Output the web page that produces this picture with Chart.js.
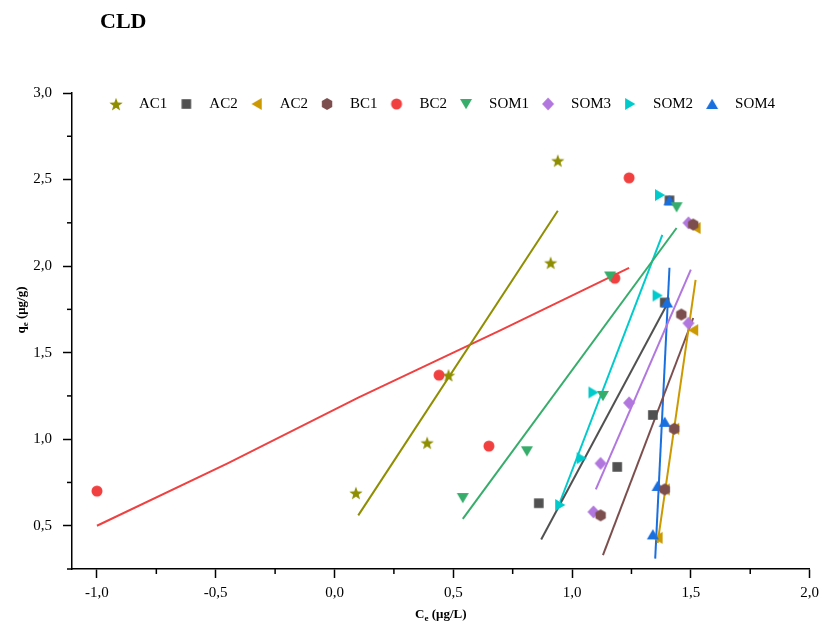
<!DOCTYPE html>
<html>
<head>
<meta charset="utf-8">
<script src="https://cdn.jsdelivr.net/npm/chart.js@4.4.0/dist/chart.umd.min.js"></script>
<style>
  html, body { margin: 0; padding: 0; background: #fff; }
</style>
</head>
<body>
<canvas id="cldChart" width="825" height="624"></canvas>
<script>
// legend labels, in the order of the legend row
var seriesLabels = ['AC1', 'AC2', 'AC2', 'BC1', 'BC2', 'SOM1', 'SOM3', 'SOM2', 'SOM4'];

// measured points: x = Ce, y = qe
var ac1X = [0.09, 0.39, 0.48, 0.91, 0.94];
var ac1Y = [0.69, 0.98, 1.37, 2.02, 2.61];
var ac2X = [0.86, 1.19, 1.34, 1.39, 1.41];
var ac2Y = [0.63, 0.84, 1.14, 1.79, 2.38];
var ac2bX = [1.36, 1.39, 1.43, 1.51, 1.52];
var ac2bY = [0.43, 0.71, 1.06, 1.63, 2.22];
var bc1X = [1.12, 1.39, 1.43, 1.46, 1.51];
var bc1Y = [0.56, 0.71, 1.06, 1.72, 2.24];
var bc2X = [-1.00, 0.44, 0.65, 1.18, 1.24];
var bc2Y = [0.70, 1.37, 0.96, 1.93, 2.51];
var som1X = [0.54, 0.81, 1.13, 1.16, 1.44];
var som1Y = [0.66, 0.93, 1.25, 1.94, 2.34];
var som3X = [1.09, 1.12, 1.24, 1.49, 1.49];
var som3Y = [0.58, 0.86, 1.21, 1.67, 2.25];
var som2X = [0.95, 1.04, 1.09, 1.36, 1.37];
var som2Y = [0.62, 0.89, 1.27, 1.83, 2.41];
var som4X = [1.34, 1.36, 1.39, 1.40, 1.41];
var som4Y = [0.45, 0.73, 1.10, 1.79, 2.38];

// fitted lines
var ac1FitX = [0.10, 0.94];   var ac1FitY = [0.56, 2.32];
var ac2FitX = [0.87, 1.40];   var ac2FitY = [0.42, 1.78];
var ac2bFitX = [1.36, 1.52];  var ac2bFitY = [0.40, 1.92];
var bc1FitX = [1.13, 1.51];   var bc1FitY = [0.33, 1.70];
var bc2FitX = [-1.00, -0.45, 0.10, 0.70, 1.24];
var bc2FitY = [0.50, 0.86, 1.24, 1.63, 1.99];
var som1FitX = [0.54, 1.44];  var som1FitY = [0.54, 2.22];
var som3FitX = [1.10, 1.50];  var som3FitY = [0.71, 1.98];
var som2FitX = [0.95, 1.38];  var som2FitY = [0.64, 2.18];
var som4FitX = [1.35, 1.41];  var som4FitY = [0.31, 1.99];

var colors = ['#8E8E00', '#515151', '#CC9900', '#7D4E4E', '#F14040', '#37AD6B', '#B177DE', '#00CBCC', '#1A6FDF'];
var shapes = ['star', 'square', 'triLeft', 'hexagon', 'circle', 'triDown', 'diamond', 'triRight', 'triUp'];
// lower number = drawn on top
var drawOrder = [9, 4, 6, 1, 8, 2, 7, 5, 3];

var pointsX = [ac1X, ac2X, ac2bX, bc1X, bc2X, som1X, som3X, som2X, som4X];
var pointsY = [ac1Y, ac2Y, ac2bY, bc1Y, bc2Y, som1Y, som3Y, som2Y, som4Y];
var fitsX = [ac1FitX, ac2FitX, ac2bFitX, bc1FitX, bc2FitX, som1FitX, som3FitX, som2FitX, som4FitX];
var fitsY = [ac1FitY, ac2FitY, ac2bFitY, bc1FitY, bc2FitY, som1FitY, som3FitY, som2FitY, som4FitY];

var serif = '"Liberation Serif", "Times New Roman", serif';

function pairs(xs, ys) {
    return xs.map(function (x, i) { return { x: x, y: ys[i] }; });
}

// filled marker drawn on a small canvas, used as pointStyle
function makeMarker(shape, color) {
    var c = document.createElement('canvas');
    c.width = 16; c.height = 16;
    var g = c.getContext('2d');
    g.fillStyle = color;
    g.translate(8, 8);
    g.beginPath();
    var i, a;
    if (shape === 'circle') {
        g.arc(0, 0, 5.5, 0, Math.PI * 2);
    } else if (shape === 'square') {
        g.rect(-4.8, -4.8, 9.6, 9.6);
    } else if (shape === 'diamond') {
        g.moveTo(0, -6.5); g.lineTo(6, 0); g.lineTo(0, 6.5); g.lineTo(-6, 0);
    } else if (shape === 'star') {
        for (i = 0; i < 10; i++) {
            var r = i % 2 ? 2.9 : 7;
            a = -Math.PI / 2 + i * Math.PI / 5;
            g.lineTo(r * Math.cos(a), r * Math.sin(a) + 0.8);
        }
    } else if (shape === 'hexagon') {
        for (i = 0; i < 6; i++) {
            a = -Math.PI / 2 + i * Math.PI / 3;
            g.lineTo(6 * Math.cos(a), 6 * Math.sin(a));
        }
    } else {
        var rot = { triUp: 0, triRight: 90, triDown: 180, triLeft: 270 }[shape];
        g.rotate(rot * Math.PI / 180);
        g.moveTo(0, -5.2); g.lineTo(6, 5); g.lineTo(-6, 5);
    }
    g.closePath();
    g.fill();
    return c;
}

var datasets = [];
seriesLabels.forEach(function (label, i) {
    datasets.push({
        label: label,
        data: pairs(pointsX[i], pointsY[i]),
        pointStyle: makeMarker(shapes[i], colors[i]),
        backgroundColor: colors[i],
        borderColor: colors[i],
        showLine: false,
        order: drawOrder[i]
    });
});
seriesLabels.forEach(function (label, i) {
    datasets.push({
        label: label + ' fit',
        data: pairs(fitsX[i], fitsY[i]),
        borderColor: colors[i],
        borderWidth: 2,
        pointRadius: 0,
        showLine: true,
        fill: false,
        order: 20
    });
});

function isMajor(v) {
    return Math.abs(v * 2 - Math.round(v * 2)) < 1e-6;
}
function onQuarter(scale) {
    scale.ticks = scale.ticks.filter(function (t) {
        return Math.abs(t.value * 4 - Math.round(t.value * 4)) < 1e-6;
    });
}
function commaLabel(v) {
    return isMajor(v) ? v.toFixed(1).replace('.', ',') : '';
}

var extras = {
    id: 'extras',
    // legend sits inside the plot, just under its top edge
    afterLayout: function (chart) {
        var lg = chart.legend, area = chart.chartArea;
        if (!lg) return;
        lg.top = area.top;
        lg.bottom = area.top + lg.height;
        lg.left = area.left - 3;
        lg.right = area.right - 3;
    },
    // short minor ticks, the title and axis titles with subscripts
    afterDraw: function (chart) {
        var ctx = chart.ctx, area = chart.chartArea;
        var xs = chart.scales.x, ys = chart.scales.y;
        ctx.save();
        ctx.strokeStyle = '#000';
        ctx.lineWidth = 1.5;
        xs.ticks.forEach(function (t) {
            if (isMajor(t.value)) return;
            var px = xs.getPixelForValue(t.value);
            ctx.beginPath(); ctx.moveTo(px, area.bottom); ctx.lineTo(px, area.bottom + 5); ctx.stroke();
        });
        ys.ticks.forEach(function (t) {
            if (isMajor(t.value)) return;
            var py = ys.getPixelForValue(t.value);
            ctx.beginPath(); ctx.moveTo(area.left, py); ctx.lineTo(area.left - 5, py); ctx.stroke();
        });

        ctx.fillStyle = '#000';
        ctx.textBaseline = 'alphabetic';
        ctx.font = 'bold 22px ' + serif;
        ctx.textAlign = 'left';
        ctx.fillText('CLD', 100, 28);

        function subTitle(main, sub, rest, cx, cy, angle) {
            var big = 'bold 13px ' + serif;
            var small = 'bold 9px ' + serif;
            ctx.font = big;
            var w1 = ctx.measureText(main).width;
            var w3 = ctx.measureText(rest).width;
            ctx.font = small;
            var w2 = ctx.measureText(sub).width;
            var x0 = -(w1 + w2 + w3) / 2;
            ctx.save();
            ctx.translate(cx, cy);
            ctx.rotate(angle);
            ctx.font = big;
            ctx.fillText(main, x0, 4);
            ctx.font = small;
            ctx.fillText(sub, x0 + w1, 7);
            ctx.font = big;
            ctx.fillText(rest, x0 + w1 + w2, 4);
            ctx.restore();
        }
        subTitle('C', 'e', ' (\u03bcg/L)', (area.left + area.right) / 2, 614, 0);
        subTitle('q', 'e', ' (\u03bcg/g)', 21, 310, -Math.PI / 2);
        ctx.restore();
    }
};

var tickFont = { family: serif, size: 15 };
function tickColor(c) {
    return c.tick && isMajor(c.tick.value) ? '#000' : 'rgba(0,0,0,0)';
}

var cldChart = new Chart(document.getElementById('cldChart').getContext('2d'), {
    type: 'scatter',
    data: { datasets: datasets },
    options: {
        responsive: false,
        animation: false,
        layout: { padding: { top: 70, right: 10, left: 0, bottom: 0 } },
        plugins: {
            title: { display: false },
            tooltip: { enabled: false },
            legend: {
                position: 'top',
                fullSize: false,
                align: 'center',
                labels: {
                    usePointStyle: true,
                    pointStyleWidth: 31,
                    boxHeight: 15,
                    padding: 3.5,
                    color: '#000',
                    font: { family: serif, size: 15 },
                    filter: function (item) { return item.datasetIndex < seriesLabels.length; },
                    sort: function (a, b) { return a.datasetIndex - b.datasetIndex; }
                }
            }
        },
        scales: {
            x: {
                type: 'linear',
                min: -1.105,
                max: 2.0,
                afterBuildTicks: onQuarter,
                afterFit: function (s) { s.height = 55; },
                ticks: {
                    stepSize: 0.25,
                    includeBounds: false,
                    autoSkip: false,
                    maxRotation: 0,
                    padding: 6,
                    color: '#000',
                    font: tickFont,
                    callback: commaLabel
                },
                grid: {
                    drawOnChartArea: false,
                    drawTicks: true,
                    tickLength: 9,
                    tickWidth: 1.5,
                    tickColor: tickColor
                },
                border: { display: true, color: '#000', width: 1.5 }
            },
            y: {
                type: 'linear',
                min: 0.25,
                max: 3.0,
                afterBuildTicks: onQuarter,
                afterFit: function (s) { s.width = 72; },
                ticks: {
                    stepSize: 0.25,
                    includeBounds: false,
                    autoSkip: false,
                    padding: 11,
                    color: '#000',
                    font: tickFont,
                    callback: commaLabel
                },
                grid: {
                    drawOnChartArea: false,
                    drawTicks: true,
                    tickLength: 9,
                    tickWidth: 1.5,
                    tickColor: tickColor
                },
                border: { display: true, color: '#000', width: 1.5 }
            }
        }
    },
    plugins: [extras]
});

// make the plot top land at y = 93 whatever the legend height
cldChart.options.layout.padding.top = 93 - cldChart.legend.height;
cldChart.update();
</script>
</body>
</html>
